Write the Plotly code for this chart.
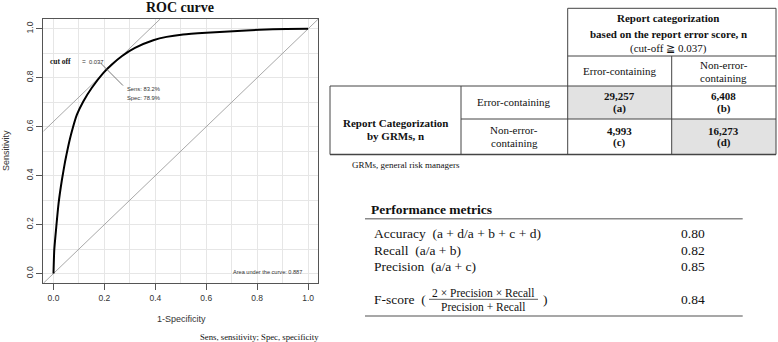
import plotly.graph_objects as go

W, H = 778, 342

# ---------------- data ----------------
fpr = [0.0, 0.003, 0.011, 0.020, 0.033, 0.046, 0.058, 0.072, 0.092, 0.117, 0.150,
       0.196, 0.229, 0.268, 0.320, 0.392, 0.444, 0.509, 0.600, 0.705, 0.809, 0.914, 1.0]
tpr = [0.0, 0.095, 0.191, 0.287, 0.382, 0.460, 0.520, 0.580, 0.649, 0.703, 0.758,
       0.820, 0.854, 0.888, 0.922, 0.953, 0.967, 0.977, 0.984, 0.990, 0.996, 0.999, 1.0]
cutoff_fpr = 0.211
cutoff_tpr = 0.832
cutoff_label = "0.037"
sens_label = "Sens: 83.2%"
spec_label = "Spec: 78.9%"
auc_label = "Area under the curve: 0.887"
axis_ticks = [0.0, 0.2, 0.4, 0.6, 0.8, 1.0]
axis_ticktext = ["0.0", "0.2", "0.4", "0.6", "0.8", "1.0"]

header_lines = ["Report categorization", "based on the report error score, n"]
header_note = "(cut-off \u2267 0.037)"
col_labels = [["Error-containing"], ["Non-error-", "containing"]]
row_title = ["Report Categorization", "by GRMs, n"]
row_labels = [["Error-containing"], ["Non-error-", "containing"]]
counts = [[29257, 6408], [4993, 16273]]
cell_letters = [["(a)", "(b)"], ["(c)", "(d)"]]
table_note = "GRMs, general risk managers"

metrics_title = "Performance metrics"
metric_names = ["Accuracy\u00a0\u00a0(a + d/a + b + c + d)",
                "Recall\u00a0\u00a0(a/a + b)",
                "Precision\u00a0\u00a0(a/a + c)"]
metric_values = [0.80, 0.82, 0.85]
fscore_num = "2 \u00d7 Precision \u00d7 Recall"
fscore_den = "Precision + Recall"
fscore_value = 0.84
roc_note = "Sens, sensitivity; Spec, specificity"

SANS = "Liberation Sans, Arial, sans-serif"
SERIF = "Liberation Serif, Times New Roman, serif"

fig = go.Figure()

# ---------------- ROC panel ----------------
rng = [-0.04, 1.04]
fig.add_trace(go.Scatter(x=rng, y=rng, mode="lines",
                         line=dict(color="#a8a8a8", width=1), hoverinfo="skip"))
icpt = cutoff_tpr - cutoff_fpr
fig.add_trace(go.Scatter(x=[rng[0], rng[1] - icpt], y=[rng[0] + icpt, rng[1]], mode="lines",
                         line=dict(color="#a8a8a8", width=1), hoverinfo="skip"))
fig.add_trace(go.Scatter(x=fpr, y=tpr, mode="lines",
                         line=dict(color="black", width=2, shape="spline", smoothing=0.5),
                         hoverinfo="skip"))
# leader line through the cut-off point
fig.add_trace(go.Scatter(x=[0.183, 0.273], y=[0.862, 0.768], mode="lines",
                         line=dict(color="#555555", width=0.8), hoverinfo="skip"))

axis_common = dict(range=rng, tickvals=axis_ticks, ticktext=axis_ticktext,
                   ticks="outside", ticklen=6, tickcolor="#555", tickwidth=1,
                   showline=True, mirror=True, linecolor="#555", linewidth=1,
                   showgrid=True, gridcolor="#e6e6e6", gridwidth=1, zeroline=False,
                   minor=dict(tick0=0, dtick=0.1, showgrid=True, gridcolor="#e6e6e6", ticklen=0),
                   tickfont=dict(family=SANS, size=8.5, color="#333"), fixedrange=True)

fig.update_layout(
    xaxis=dict(domain=[43.3 / W, 318.3 / W], **axis_common),
    yaxis=dict(domain=[1 - 283.3 / H, 1 - 19 / H], tickangle=-90, **axis_common),
)

annotations = []


def ann(text, xp, yp, size, family=SERIF, color="#111", xanchor="center", textangle=0):
    annotations.append(dict(text=text, x=xp / W, y=1 - yp / H, xref="paper", yref="paper",
                            showarrow=False, xanchor=xanchor, yanchor="middle",
                            textangle=textangle,
                            font=dict(family=family, size=size, color=color)))


def dann(text, x, y, size, family=SANS, xanchor="left", color="#333"):
    annotations.append(dict(text=text, x=x, y=y, xref="x", yref="y", showarrow=False,
                            xanchor=xanchor, yanchor="middle",
                            font=dict(family=family, size=size, color=color)))


ann("<b>ROC curve</b>", 180, 7, 14)
ann("1-Specificity", 181, 319, 9, family=SANS, color="#333")
ann("Sensitivity", 6, 151, 9, family=SANS, color="#333", textangle=-90)
ann(roc_note, 321, 337, 8.7, xanchor="right")

dann("<b>cut off</b>", -0.020, 0.866, 7.5, family=SERIF, color="#111")
dann("=", 0.104, 0.866, 6.5)
dann(cutoff_label, 0.130, 0.866, 5.8)
dann(sens_label, 0.279, 0.755, 5.8)
dann(spec_label, 0.279, 0.718, 5.8)
dann(auc_label, 0.984, 0.006, 5.6, xanchor="right")

# ---------------- 2x2 table ----------------
shapes = []


def hline(x0, x1, y, color="#444", width=1):
    shapes.append(dict(type="line", xref="paper", yref="paper", x0=x0 / W, x1=x1 / W,
                       y0=1 - y / H, y1=1 - y / H, line=dict(color=color, width=width)))


def vline(x, y0, y1, color="#444", width=1):
    shapes.append(dict(type="line", xref="paper", yref="paper", x0=x / W, x1=x / W,
                       y0=1 - y0 / H, y1=1 - y1 / H, line=dict(color=color, width=width)))


def rect(x0, y0, x1, y1, fill):
    shapes.append(dict(type="rect", xref="paper", yref="paper", x0=x0 / W, x1=x1 / W,
                       y0=1 - y1 / H, y1=1 - y0 / H, fillcolor=fill, line=dict(width=0),
                       layer="below"))


tx0, tx1, tx2, tx3, tx4 = 330, 461, 567.7, 671.7, 776
ty0, ty1, ty2, ty3, ty4 = 8.3, 56, 86, 119, 154.5
col_cx = [(tx2 + tx3) / 2, (tx3 + tx4) / 2]
row_cy = [(ty2 + ty3) / 2, (ty3 + ty4) / 2]

rect(tx2, ty2, tx3, ty3, "#e2e2e2")
rect(tx3, ty3, tx4, ty4, "#e2e2e2")
hline(tx2, tx4, ty0)
hline(tx2, tx4, ty1)
hline(tx0, tx4, ty2)
hline(tx1, tx4, ty3)
hline(tx0, tx4, ty4, width=1.3)
vline(tx2, ty0, ty4)
vline(tx4, ty0, ty4)
vline(tx3, ty1, ty4)
vline(tx0, ty2, ty4)
vline(tx1, ty2, ty4)

ann("<b>%s</b>" % header_lines[0], 668, 18.5, 11)
ann("<b>%s</b>" % header_lines[1], 668, 33.5, 11)
ann(header_note, 668, 48.5, 11)

for j, lines in enumerate(col_labels):
    cy = (ty1 + ty2) / 2
    if len(lines) == 1:
        ann(lines[0], col_cx[j], cy, 11)
    else:
        ann(lines[0], col_cx[j], cy - 6.5, 11)
        ann(lines[1], col_cx[j], cy + 6.5, 11)

ann("<b>%s</b>" % row_title[0], (tx0 + tx1) / 2, 122.7, 11)
ann("<b>%s</b>" % row_title[1], (tx0 + tx1) / 2, 136.2, 11)

for i, lines in enumerate(row_labels):
    cy = row_cy[i]
    if len(lines) == 1:
        ann(lines[0], (tx1 + tx2) / 2, cy - 0.5, 11)
    else:
        ann(lines[0], (tx1 + tx2) / 2, cy - 6.3, 11)
        ann(lines[1], (tx1 + tx2) / 2, cy + 6.3, 11)
    for j in range(2):
        ann("<b>{:,}</b>".format(counts[i][j]), col_cx[j], cy - 6.2, 11)
        ann("<b>%s</b>" % cell_letters[i][j], col_cx[j], cy + 6.2, 11)

ann(table_note, 350, 165, 9, xanchor="left")

# ---------------- metrics ----------------
ann("<b>%s</b>" % metrics_title, 369, 209, 13.5, xanchor="left")
hline(365, 742.7, 218.7, color="#8a8a8a", width=1.5)
metric_y = [233.3, 250, 266.7]
for name, val, yy in zip(metric_names, metric_values, metric_y):
    ann(name, 371.5, yy, 13.5, xanchor="left")
    ann("{:.2f}".format(val), 693.3, yy, 13.5)
ann("F-score\u00a0\u00a0(", 371.5, 299.3, 13.5, xanchor="left")
ann(fscore_num, 483.3, 292.5, 11.5)
ann(fscore_den, 483.3, 306.5, 11.5)
hline(429, 538, 299.3, color="#333", width=0.8)
ann(")", 540.5, 299.3, 13.5, xanchor="left")
ann("{:.2f}".format(fscore_value), 693.3, 299.3, 13.5)
hline(365, 742.7, 316, color="#8a8a8a", width=1.5)

fig.update_layout(
    width=W, height=H, margin=dict(l=0, r=0, t=0, b=0),
    paper_bgcolor="white", plot_bgcolor="white", showlegend=False,
    annotations=annotations, shapes=shapes, hovermode=False,
)

fig.write_html("out.html", config={"displayModeBar": False, "staticPlot": True},
               post_script="document.body.style.margin='0';document.body.style.overflow='hidden';")
